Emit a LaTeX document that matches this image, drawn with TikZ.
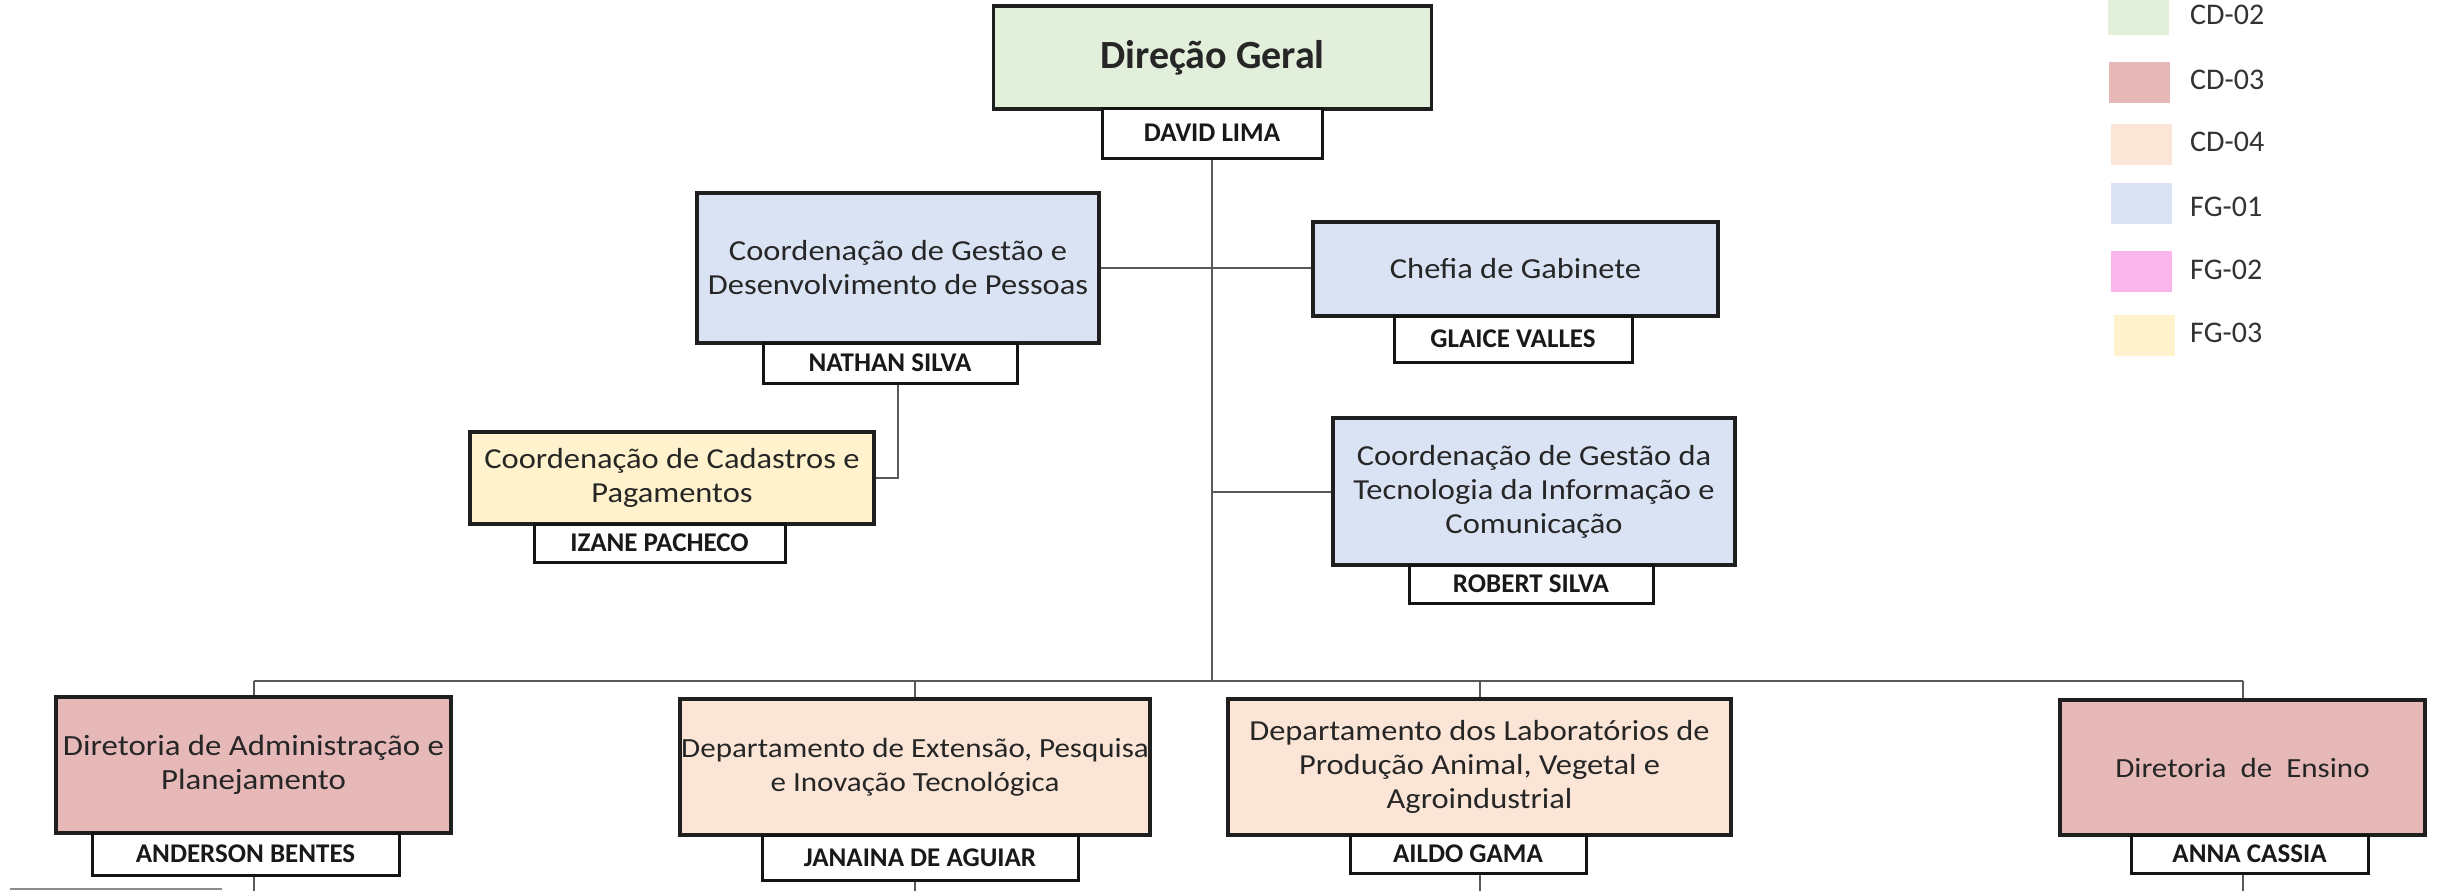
\documentclass[tikz,border=0pt]{standalone}
\usepackage{fontspec}
\setmainfont{Carlito}
\newfontfamily\boxfont{Carlito}[FakeStretch=1.12]
\definecolor{cgreen}{HTML}{E2EFDA}
\definecolor{cred}{HTML}{E6B9B8}
\definecolor{cpeach}{HTML}{FBE5D6}
\definecolor{cblue}{HTML}{DAE3F3}
\definecolor{cpink}{HTML}{F9B5EC}
\definecolor{cyellow}{HTML}{FFF2CC}
\definecolor{txt}{HTML}{262626}
\tikzset{
  mbox/.style={draw=black!88, line width=3.5pt, inner sep=0pt, align=center, text=txt,
    font=\boxfont\fontsize{29}{34}\selectfont},
  nbox/.style={draw=black!92, fill=white, line width=3pt, inner sep=0pt, align=center,
    text=black!90, font=\bfseries\fontsize{27}{30}\selectfont},
  conn/.style={draw=black!65, line width=2pt},
  swatch/.style={inner sep=0pt, minimum width=61pt, minimum height=41pt},
  legtext/.style={anchor=west, inner sep=0pt, text=black!80, font=\fontsize{30}{34}\selectfont}
}
\begin{document}
\begin{tikzpicture}[x=1pt,y=-1pt]
\fill[white] (0,0) rectangle (2440,891);
\useasboundingbox (0,0) rectangle (2440,891);

% top
\node[mbox, fill=cgreen, minimum width=438pt, minimum height=103pt,
  font=\bfseries\fontsize{40}{44}\selectfont] (dg) at (1212.5,57.5) {Direção Geral};
\node[nbox, minimum width=220pt, minimum height=50pt] (dgn) at (1212,133) {DAVID LIMA};

% second level
\node[mbox, fill=cblue, minimum width=402pt, minimum height=150pt] (cgp) at (898,268)
  {Coordenação de Gestão e\\Desenvolvimento de Pessoas};
\node[nbox, minimum width=254pt, minimum height=40pt] (cgpn) at (890,363) {NATHAN SILVA};

\node[mbox, fill=cblue, minimum width=405pt, minimum height=94pt] (chefia) at (1515.5,269)
  {Chefia de Gabinete};
\node[nbox, minimum width=238pt, minimum height=46pt] (chefian) at (1513,339) {GLAICE VALLES};

\node[mbox, fill=cyellow, minimum width=404pt, minimum height=92pt] (cad) at (672,478)
  {Coordenação de Cadastros e\\Pagamentos};
\node[nbox, minimum width=251pt, minimum height=38pt] (cadn) at (659.5,543) {IZANE PACHECO};

\node[mbox, fill=cblue, minimum width=402pt, minimum height=147pt] (ti) at (1534,491.5)
  {Coordenação de Gestão da\\Tecnologia da Informação e\\Comunicação};
\node[nbox, minimum width=244pt, minimum height=38pt] (tin) at (1531,584) {ROBERT SILVA};

% bottom row
\node[mbox, fill=cred, minimum width=395pt, minimum height=136pt,
  font=\boxfont\fontsize{29.3}{34}\selectfont] (dap) at (253.5,765)
  {Diretoria de Administração e\\Planejamento};
\node[nbox, minimum width=307pt, minimum height=42pt] (dapn) at (245.5,854) {ANDERSON BENTES};

\node[mbox, fill=cpeach, minimum width=470pt, minimum height=136pt,
  font=\boxfont\fontsize{27.7}{34}\selectfont] (ext) at (915,767)
  {Departamento de Extensão, Pesquisa\\e Inovação Tecnológica};
\node[nbox, minimum width=316pt, minimum height=45pt] (extn) at (920,857.5) {JANAINA DE AGUIAR};

\node[mbox, fill=cpeach, minimum width=503pt, minimum height=136pt] (lab) at (1479.5,767)
  {Departamento dos Laboratórios de\\Produção Animal, Vegetal e\\Agroindustrial};
\node[nbox, minimum width=236pt, minimum height=38pt] (labn) at (1468,854) {AILDO GAMA};

\node[mbox, fill=cred, minimum width=365pt, minimum height=135pt,
  font=\boxfont\fontsize{27.7}{34}\selectfont] (ens) at (2242.5,767.5)
  {Diretoria\ \ de\ \ Ensino};
\node[nbox, minimum width=237pt, minimum height=38pt] (ensn) at (2249.5,854) {ANNA CASSIA};

% connectors
\coordinate (bus) at (1212,681);
\draw[conn] (dgn.south) -- (dgn.south |- bus);
\draw[conn] (dap.north |- bus) -- (ens.north |- bus);
\draw[conn] (dap.north |- bus) -- (dap.north);
\draw[conn] (ext.north |- bus) -- (ext.north);
\draw[conn] (lab.north |- bus) -- (lab.north);
\draw[conn] (ens.north |- bus) -- (ens.north);
\draw[conn] (cgp.east) -- (cgp.east -| chefia.west);
\draw[conn] (dgn.south |- ti.west) -- (ti.west);
\draw[conn] (cgp.center |- cgpn.south) |- (cad.east);
\coordinate (bot) at (0,891);
\draw[conn] (dap.center |- dapn.south) -- (dap.center |- bot);
\draw[conn] (ext.center |- extn.south) -- (ext.center |- bot);
\draw[conn] (lab.center |- labn.south) -- (lab.center |- bot);
\draw[conn] (ens.center |- ensn.south) -- (ens.center |- bot);
\coordinate (gl1) at (10,889);
\coordinate (gl2) at (222,889);
\draw[draw=black!45, line width=2pt] (gl1) -- (gl2);

% legend
\node[swatch, fill=cgreen] (s1) at (2138.5,14.5) {};
\node[swatch, fill=cred] (s2) at (2139,82.5) {};
\node[swatch, fill=cpeach] (s3) at (2141,144.5) {};
\node[swatch, fill=cblue] (s4) at (2141,203.5) {};
\node[swatch, fill=cpink] (s5) at (2141,271.5) {};
\node[swatch, fill=cyellow] (s6) at (2144,335.5) {};
\node[legtext] (l1) at (2190,15) {CD-02};
\node[legtext] (l2) at (2190,80) {CD-03};
\node[legtext] (l3) at (2190,142) {CD-04};
\node[legtext] (l4) at (2190,207) {FG-01};
\node[legtext] (l5) at (2190,270) {FG-02};
\node[legtext] (l6) at (2190,333) {FG-03};
\end{tikzpicture}
\end{document}
